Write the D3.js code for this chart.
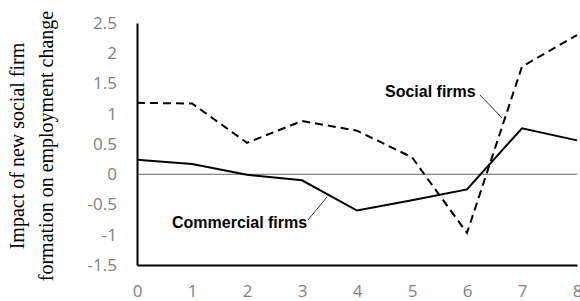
<!DOCTYPE html>
<meta charset="utf-8">
<style>
  body { margin: 0; background: #fff; }
  .tick text { fill: #7f7f7f; font-family: "Open Sans", sans-serif; font-size: 17px; }
  .label { font-family: "Liberation Sans", Arial, sans-serif; font-weight: bold; font-size: 16px; }
</style>
<body>
<script src="https://d3js.org/d3.v7.min.js"></script>
<script>

// Data
var years = [0, 1, 2, 3, 4, 5, 6, 7, 8];
var socialFirms = [1.18, 1.17, 0.52, 0.88, 0.72, 0.28, -0.97, 1.78, 2.3];
var commercialFirms = [0.24, 0.17, -0.01, -0.1, -0.6, -0.43, -0.25, 0.76, 0.56];
var yTicks = [-1.5, -1, -0.5, 0, 0.5, 1, 1.5, 2, 2.5];

var margin = {top: 23, right: 3, bottom: 36, left: 137},
    width = 580 - margin.left - margin.right,
    height = 301 - margin.top - margin.bottom;

var x = d3.scaleLinear().domain([0, 8]).range([0, width]);
var y = d3.scaleLinear().domain([-1.5, 2.5]).range([height, 0]);

var svg = d3.select("body").append("svg")
    .attr("width", 580)
    .attr("height", 301);

var g = svg.append("g")
    .attr("transform", "translate(" + margin.left + "," + margin.top + ")");

// zero line
g.append("line")
  .attr("x1", 0).attr("x2", width)
  .attr("y1", y(0)).attr("y2", y(0))
  .attr("stroke", "#666").attr("stroke-width", 1);

// y axis
var yAxis = g.append("g")
  .call(d3.axisLeft(y).tickValues(yTicks).tickSize(0).tickPadding(20)
    .tickFormat(function(d) { return d; }));
yAxis.select(".domain").attr("stroke", "#000").attr("stroke-width", 2);

// x axis
var xAxis = g.append("g")
  .attr("transform", "translate(0," + height + ")")
  .call(d3.axisBottom(x).tickValues(years).tickSize(0).tickPadding(20));
xAxis.select(".domain").attr("stroke", "#000").attr("stroke-width", 2);

var line = d3.line()
  .x(function(d, i) { return x(years[i]); })
  .y(function(d) { return y(d); });

g.append("path")
  .datum(commercialFirms)
  .attr("d", line)
  .attr("fill", "none")
  .attr("stroke", "#000")
  .attr("stroke-width", 2);

g.append("path")
  .datum(socialFirms)
  .attr("d", line)
  .attr("fill", "none")
  .attr("stroke", "#000")
  .attr("stroke-width", 2)
  .attr("stroke-dasharray", "8,5");

// annotations
svg.append("text").attr("class", "label")
  .attr("x", 385).attr("y", 97).text("Social firms");
svg.append("line")
  .attr("x1", 480).attr("y1", 95).attr("x2", 502).attr("y2", 118)
  .attr("stroke", "#000").attr("stroke-width", 0.8);

svg.append("text").attr("class", "label")
  .attr("x", 172).attr("y", 228).text("Commercial firms");
svg.append("line")
  .attr("x1", 308).attr("y1", 220).attr("x2", 327).attr("y2", 197)
  .attr("stroke", "#000").attr("stroke-width", 0.8);

// y axis title
var title = svg.append("text")
  .attr("transform", "translate(0,146) rotate(-90)")
  .attr("text-anchor", "middle")
  .style("font-family", "'Liberation Serif', 'Times New Roman', serif")
  .style("font-size", "20px")
  .attr("fill", "#000");
title.append("tspan").attr("x", 0).attr("y", 24).text("Impact of new social firm");
title.append("tspan").attr("x", 0).attr("y", 53).text("formation on employment change");

</script>
